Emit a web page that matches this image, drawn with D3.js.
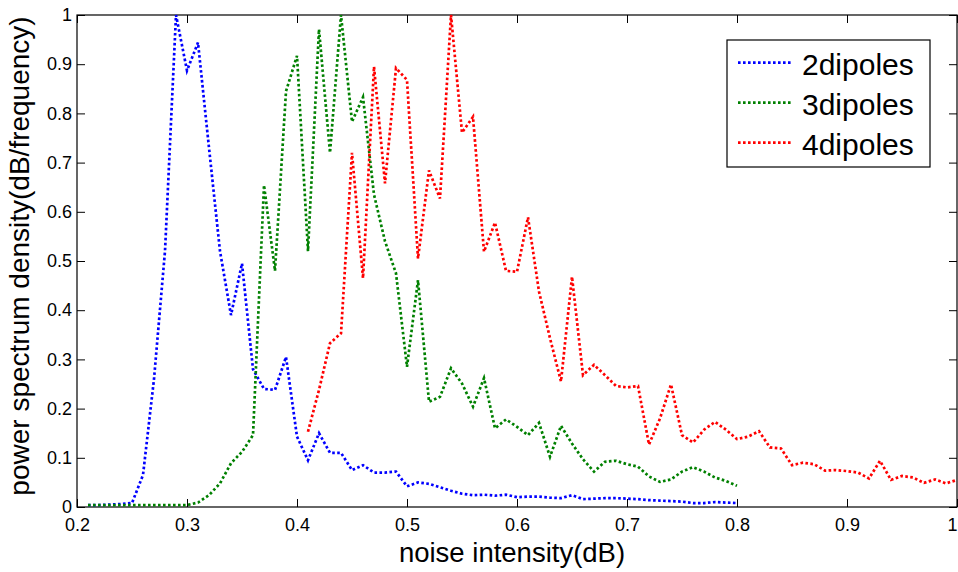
<!DOCTYPE html>
<html>
<head>
<meta charset="utf-8">
<script src="https://cdn.jsdelivr.net/npm/d3@7/dist/d3.min.js"></script>
<style>
  html, body { margin: 0; padding: 0; background: #fff; }
  svg { display: block; font-family: "Liberation Sans", Arial, sans-serif; }
</style>
</head>
<body>
<svg id="chart" width="958" height="572"></svg>
<script>
// Noise intensity grid (dB) for the 2- and 3-dipole runs
const noiseLow = [0.21,0.22,0.23,0.24,0.25,0.26,0.27,0.28,0.29,0.30,
                  0.31,0.32,0.33,0.34,0.35,0.36,0.37,0.38,0.39,0.40,
                  0.41,0.42,0.43,0.44,0.45,0.46,0.47,0.48,0.49,0.50,
                  0.51,0.52,0.53,0.54,0.55,0.56,0.57,0.58,0.59,0.60,
                  0.61,0.62,0.63,0.64,0.65,0.66,0.67,0.68,0.69,0.70,
                  0.71,0.72,0.73,0.74,0.75,0.76,0.77,0.78,0.79,0.80];
// Noise intensity grid (dB) for the 4-dipole run
const noiseHigh = [0.41,0.42,0.43,0.44,0.45,0.46,0.47,0.48,0.49,0.50,
                   0.51,0.52,0.53,0.54,0.55,0.56,0.57,0.58,0.59,0.60,
                   0.61,0.62,0.63,0.64,0.65,0.66,0.67,0.68,0.69,0.70,
                   0.71,0.72,0.73,0.74,0.75,0.76,0.77,0.78,0.79,0.80,
                   0.81,0.82,0.83,0.84,0.85,0.86,0.87,0.88,0.89,0.90,
                   0.91,0.92,0.93,0.94,0.95,0.96,0.97,0.98,0.99,1.00];

// Normalised power spectrum density
const psd2 = [0.004,0.004,0.005,0.006,0.008,0.065,0.26,0.52,1.0,0.887,
              0.944,0.73,0.52,0.39,0.495,0.28,0.24,0.238,0.305,0.143,
              0.095,0.15,0.11,0.11,0.075,0.085,0.07,0.07,0.072,0.042,
              0.05,0.047,0.04,0.033,0.027,0.024,0.025,0.023,0.025,0.02,
              0.021,0.021,0.019,0.018,0.024,0.016,0.017,0.018,0.018,0.017,
              0.016,0.014,0.013,0.012,0.011,0.008,0.008,0.01,0.009,0.008];
const psd3 = [0.004,0.004,0.004,0.004,0.004,0.004,0.004,0.004,0.004,0.004,
              0.009,0.024,0.048,0.089,0.112,0.146,0.654,0.48,0.845,0.917,
              0.52,0.971,0.72,1.0,0.783,0.833,0.635,0.54,0.475,0.285,
              0.461,0.214,0.224,0.282,0.251,0.204,0.262,0.16,0.178,0.163,
              0.146,0.171,0.102,0.165,0.129,0.097,0.072,0.092,0.094,0.087,
              0.082,0.062,0.051,0.056,0.072,0.081,0.072,0.06,0.053,0.043];
const psd4 = [0.153,0.238,0.333,0.353,0.72,0.465,0.895,0.658,0.892,0.868,
              0.505,0.684,0.627,1.0,0.761,0.793,0.519,0.578,0.48,0.478,
              0.589,0.438,0.343,0.255,0.468,0.268,0.289,0.268,0.246,0.243,
              0.246,0.127,0.18,0.249,0.146,0.131,0.157,0.173,0.157,0.138,
              0.143,0.154,0.121,0.119,0.085,0.09,0.087,0.074,0.075,0.073,
              0.07,0.058,0.094,0.055,0.063,0.06,0.049,0.056,0.048,0.055];

const seriesNames = ["2dipoles", "3dipoles", "4dipoles"];
const seriesColors = ["#0000ff", "#008000", "#ff0000"];
const xTicks = [0.2,0.3,0.4,0.5,0.6,0.7,0.8,0.9,1];
const yTicks = [0,0.1,0.2,0.3,0.4,0.5,0.6,0.7,0.8,0.9,1];

const series = [
  { name: seriesNames[0], color: seriesColors[0], xs: noiseLow,  ys: psd2 },
  { name: seriesNames[1], color: seriesColors[1], xs: noiseLow,  ys: psd3 },
  { name: seriesNames[2], color: seriesColors[2], xs: noiseHigh, ys: psd4 }
];

const svg = d3.select("#chart");
const plotLeft = 77, plotRight = 957, plotTop = 15, plotBottom = 507;

const x = d3.scaleLinear().domain([0.2, 1]).range([plotLeft, plotRight]);
const y = d3.scaleLinear().domain([0, 1]).range([plotBottom, plotTop]);

const fmt = d => (d === 0 || d === 1) ? String(d) : d3.format(".1f")(d);
const tickLen = 8;

function styleAxis(g) {
  g.select(".domain").remove();
  g.selectAll(".tick line").attr("stroke", "#000").attr("stroke-width", 1);
  g.selectAll(".tick text").attr("fill", "#000").style("font-size", "18px");
}

// bottom axis with labels, inward ticks
const xAxisG = svg.append("g")
  .attr("transform", `translate(0,${plotBottom})`)
  .call(d3.axisBottom(x).tickValues(xTicks).tickFormat(fmt)
        .tickSizeInner(-tickLen).tickSizeOuter(0).tickPadding(11))
  .call(styleAxis);
// the last label sits on the window edge; keep it inside the canvas
xAxisG.selectAll(".tick text").filter(d => d === 1).attr("text-anchor", "end");

// left axis with labels
svg.append("g")
  .attr("transform", `translate(${plotLeft},0)`)
  .call(d3.axisLeft(y).tickValues(yTicks).tickFormat(fmt)
        .tickSizeInner(-tickLen).tickSizeOuter(0).tickPadding(5))
  .call(styleAxis);

// top and right axes: ticks only
svg.append("g")
  .attr("transform", `translate(0,${plotTop})`)
  .call(d3.axisTop(x).tickValues(xTicks).tickFormat("")
        .tickSizeInner(-tickLen).tickSizeOuter(0))
  .call(styleAxis);
svg.append("g")
  .attr("transform", `translate(${plotRight},0)`)
  .call(d3.axisRight(y).tickValues(yTicks).tickFormat("")
        .tickSizeInner(-tickLen).tickSizeOuter(0))
  .call(styleAxis);

// plot frame
svg.append("rect")
  .attr("x", plotLeft).attr("y", plotTop)
  .attr("width", plotRight - plotLeft).attr("height", plotBottom - plotTop)
  .attr("fill", "none").attr("stroke", "#000").attr("stroke-width", 1.2);

// dotted series lines
const line = d3.line().x(d => x(d[0])).y(d => y(d[1]));
series.forEach(s => {
  const pts = s.xs.map((v, i) => [v, s.ys[i]]);
  svg.append("path")
    .datum(pts)
    .attr("d", line)
    .attr("fill", "none")
    .attr("stroke", s.color)
    .attr("stroke-width", 2.7)
    .attr("stroke-dasharray", "2.6,2.4");
});

// axis titles
svg.append("text")
  .attr("x", (plotLeft + plotRight) / 2 - 5).attr("y", 562)
  .attr("text-anchor", "middle")
  .style("font-size", "27.5px")
  .text("noise intensity(dB)");

svg.append("text")
  .attr("transform", "translate(29,256) rotate(-90)")
  .attr("text-anchor", "middle")
  .style("font-size", "28px")
  .text("power spectrum density(dB/frequency)");

// legend
const lg = svg.append("g");
lg.append("rect")
  .attr("x", 727).attr("y", 40).attr("width", 203).attr("height", 127)
  .attr("fill", "#fff").attr("stroke", "#000").attr("stroke-width", 1.2);
series.forEach((s, i) => {
  const cy = 62.7 + i * 40;
  lg.append("line")
    .attr("x1", 738).attr("x2", 793).attr("y1", cy).attr("y2", cy)
    .attr("stroke", s.color).attr("stroke-width", 2.7)
    .attr("stroke-dasharray", "2.6,2.4");
  lg.append("text")
    .attr("x", 802).attr("y", cy + 12.5)
    .style("font-size", "30px")
    .text(s.name);
});
</script>
</body>
</html>
